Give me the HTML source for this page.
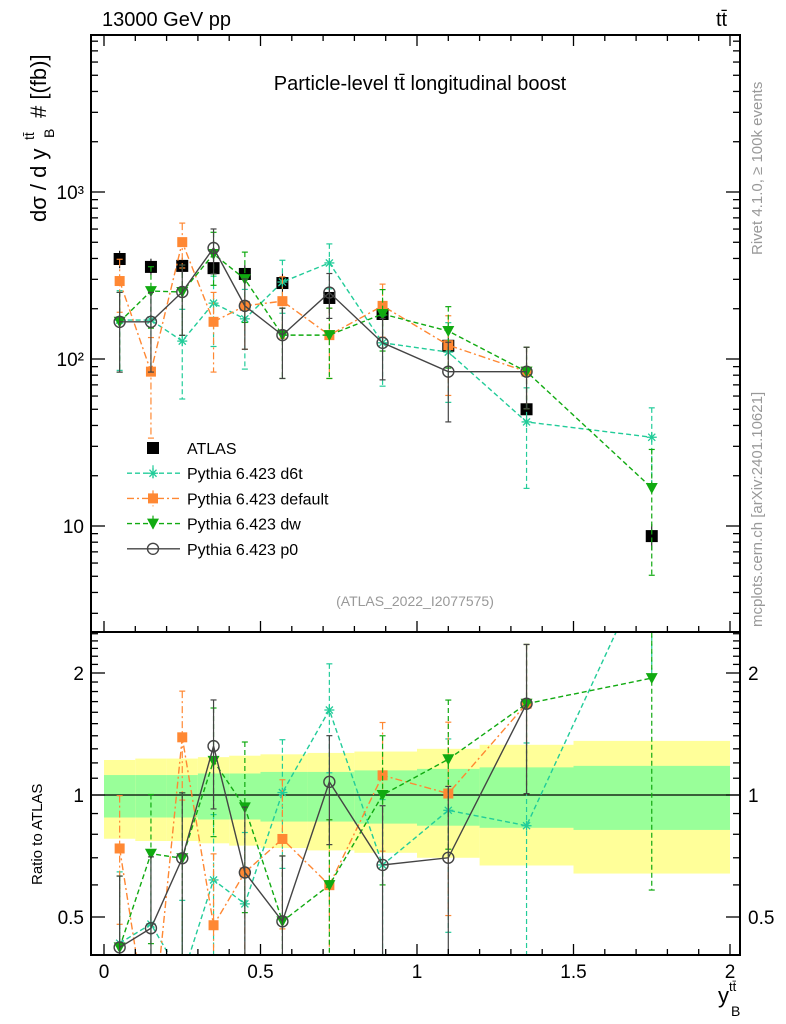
<!DOCTYPE html>
<html><head><meta charset="utf-8"><style>
html,body{margin:0;padding:0;background:#fff;overflow:hidden;width:786px;height:1024px}
svg{display:block}
svg text{font-family:"Liberation Sans","DejaVu Sans",sans-serif}
</style></head><body>
<svg id="c" width="786" height="1024" xmlns="http://www.w3.org/2000/svg"></svg>
<script>
const xs=[0.05,0.15,0.25,0.35,0.45,0.57,0.72,0.89,1.1,1.35,1.75];
const binEdges=[0,0.1,0.2,0.3,0.4,0.5,0.65,0.8,1.0,1.2,1.5,2.0];
const atlas=[397,356,361,350,323,285,232,186,120,50,8.7];
const atlasStat=[0.12,0.12,0.12,0.13,0.13,0.14,0.14,0.15,0.16,0.17,0.18];
const atlasTot=[0.22,0.23,0.23,0.24,0.25,0.26,0.27,0.28,0.3,0.33,0.36];
const d6t=[171,171,128,216,174,289,376,125,110,42,34];
const d6tErr=[0.5,0.5,0.55,0.45,0.5,0.35,0.3,0.45,0.5,0.6,0.5];
const def=[293,84,501,167,208,222,139,208,121,84];
const defErr=[0.35,0.6,0.3,0.5,0.45,0.4,0.45,0.35,0.5,0.4];
const dw=[167,255,252,425,301,139,139,186,147,84,16.9];
const dwErr=[0.5,0.4,0.45,0.35,0.45,0.45,0.45,0.4,0.4,0.4,0.7];
const p0=[167,167,252,462,208,139,250,125,84,84];
const p0Err=[0.5,0.5,0.45,0.3,0.45,0.45,0.3,0.4,0.5,0.4];
const xTicks=[0,0.5,1,1.5,2];
const yTicksMain=[10,100,1000];
const yTickLabelsMain=["10","10²","10³"];

const svg=document.getElementById('c');
const NS="http://www.w3.org/2000/svg";
const L=91,R=740,T=35,MB=632,RB=955;
const X=v=>104+v*313;
const Y=v=>359-(Math.log10(v)-2)*167;
const RY=r=>795-Math.log2(r)*122;
function mk(tag,attrs,parent){const e=document.createElementNS(NS,tag);for(const k in attrs)e.setAttribute(k,attrs[k]);(parent||svg).appendChild(e);return e;}
function txt(s,x,y,size,attrs,parent){const t=mk('text',Object.assign({x:x,y:y,'font-size':size},attrs||{}),parent);t.textContent=s;return t;}

const defs=mk('defs',{});
const cm=mk('clipPath',{id:'cm'},defs);mk('rect',{x:L,y:T,width:R-L,height:MB-T},cm);
const cr=mk('clipPath',{id:'cr'},defs);mk('rect',{x:L,y:MB,width:R-L,height:RB-MB},cr);

const band=mk('g',{'clip-path':'url(#cr)'});


for(let i=0;i<xs.length;i++){
  const x0=X(binEdges[i]),x1=X(binEdges[i+1]);
  const ry=mk('rect',{x:x0,y:RY(1+atlasTot[i]),width:x1-x0,height:RY(1-atlasTot[i])-RY(1+atlasTot[i]),fill:'#ffff99'},band);
  
  
  const rg=mk('rect',{x:x0,y:RY(1+atlasStat[i]),width:x1-x0,height:RY(1-atlasStat[i])-RY(1+atlasStat[i]),fill:'#99ff99'},band);
  
  
}
mk('line',{x1:L,x2:R,y1:RY(1),y2:RY(1),stroke:'#000','stroke-width':1.3});

const series=[
 {name:'d6t',vals:d6t,err:d6tErr,col:'#22cc99',dash:'5,3',mark:'star'},
 {name:'default',vals:def,err:defErr,col:'#ff8833',dash:'7,3,2,3',mark:'square'},
 {name:'dw',vals:dw,err:dwErr,col:'#11aa11',dash:'5,3',mark:'tri'},
 {name:'p0',vals:p0,err:p0Err,col:'#444444',dash:'',mark:'circle'}
];
function marker(type,x,y,col,g){
  if(type==='star'){for(let a=0;a<4;a++){const an=a*Math.PI/4;mk('line',{x1:x-5*Math.cos(an),y1:y-5*Math.sin(an),x2:x+5*Math.cos(an),y2:y+5*Math.sin(an),stroke:col,'stroke-width':1.3},g);}}
  else if(type==='square')mk('rect',{x:x-5,y:y-5,width:10,height:10,fill:col},g);
  else if(type==='tri')mk('polygon',{points:`${x-6},${y-5} ${x+6},${y-5} ${x},${y+6}`,fill:col},g);
  else if(type==='circle')mk('circle',{cx:x,cy:y,r:5.5,fill:'#fff','fill-opacity':0,stroke:col,'stroke-width':1.4},g);
  else if(type==='black')mk('rect',{x:x-6,y:y-6,width:12,height:12,fill:'#000'},g);
}
function drawSeries(s,ratio){
  const g=mk('g',{'clip-path':ratio?'url(#cr)':'url(#cm)'});
  
  
  const f=ratio?((v,i)=>RY(v/atlas[i])):((v,i)=>Y(v));
  let pts=s.vals.map((v,i)=>X(xs[i])+','+f(v,i)).join(' ');
  mk('polyline',{points:pts,fill:'none',stroke:s.col,'stroke-width':1.4,'stroke-dasharray':s.dash},g);
  s.vals.forEach((v,i)=>{
    const x=X(xs[i]),y1=f(v*(1+s.err[i]),i),y2=f(v*(1-s.err[i]),i);
    mk('line',{x1:x,x2:x,y1:y1,y2:y2,stroke:s.col,'stroke-width':1.2,'stroke-dasharray':s.dash},g);
    mk('line',{x1:x-3,x2:x+3,y1:y1,y2:y1,stroke:s.col,'stroke-width':1.2},g);
    mk('line',{x1:x-3,x2:x+3,y1:y2,y2:y2,stroke:s.col,'stroke-width':1.2},g);
    marker(s.mark,x,f(v,i),s.col,g);
  });
}
const ga=mk('g',{'clip-path':'url(#cm)'});


atlas.forEach((v,i)=>{const x=X(xs[i]);mk('line',{x1:x,x2:x,y1:Y(v*(1+atlasStat[i])),y2:Y(v*(1-atlasStat[i])),stroke:'#000'},ga);marker('black',x,Y(v),'#000',ga);});
series.forEach(s=>{drawSeries(s,false);drawSeries(s,true);});

mk('rect',{x:L,y:T,width:R-L,height:MB-T,fill:'none',stroke:'#000','stroke-width':2});
mk('rect',{x:L,y:MB,width:R-L,height:RB-MB,fill:'none',stroke:'#000','stroke-width':2});
for(let k=0;k<=20;k++){const v=k/10,x=X(v),maj=k%5===0,l=maj?11:6;
 [[MB,1],[T,-1],[RB,1]].forEach(([yb,d])=>{mk('line',{x1:x,x2:x,y1:yb-d*l,y2:yb,stroke:'#000','stroke-width':1.3});});
}
xTicks.forEach(v=>{const t=txt(String(v),X(v),978,19,{'text-anchor':'middle'});});
for(let d=0;d<=3;d++)for(let m=1;m<=9;m++){const v=m*Math.pow(10,d);const y=Y(v);if(y<T||y>MB)continue;const l=m===1?14:7;
 mk('line',{x1:L,x2:L+l,y1:y,y2:y,stroke:'#000','stroke-width':1.3});mk('line',{x1:R-l,x2:R,y1:y,y2:y,stroke:'#000','stroke-width':1.3});}
yTicksMain.forEach((v,i)=>{const t=txt(yTickLabelsMain[i],84,Y(v)+7,19,{'text-anchor':'end'});});
for(let m=0.4;m<=2.6;m+=0.1){const y=RY(m);if(y<MB||y>RB)continue;const maj=Math.abs(m-0.5)<0.01||Math.abs(m-1)<0.01||Math.abs(m-2)<0.01;const l=maj?14:7;
 mk('line',{x1:L,x2:L+l,y1:y,y2:y,stroke:'#000','stroke-width':1.3});mk('line',{x1:R-l,x2:R,y1:y,y2:y,stroke:'#000','stroke-width':1.3});}
[[2,'2'],[1,'1'],[0.5,'0.5']].forEach(([v,s])=>{txt(s,84,RY(v)+7,19,{'text-anchor':'end'});txt(s,748,RY(v)+7,19,{});});

let t;
t=txt('13000 GeV pp',102,26,20,{});
t=txt('tt̄',716,26,20,{});
t=txt('Particle-level tt̄ longitudinal boost',420,90,20,{'text-anchor':'middle'});
t=txt('(ATLAS_2022_I2077575)',415,606,14,{'text-anchor':'middle',fill:'#999'});
t=txt('dσ / d y',0,0,22,{transform:'translate(46,222) rotate(-90)'});
txt('tt̄',0,0,14,{transform:'translate(34,140) rotate(-90)'});
txt('B',0,0,14,{transform:'translate(54,138) rotate(-90)'});
txt('# [(fb)]',0,0,22,{transform:'translate(46,118) rotate(-90)'});
t=txt('Ratio to ATLAS',0,0,15,{transform:'translate(42,885) rotate(-90)'});
t=txt('y',718,1003,22,{});
txt('tt̄',729,991,13,{});txt('B',731,1016,14,{});
t=txt('Rivet 4.1.0, ≥ 100k events',0,0,15,{transform:'translate(762,255) rotate(-90)',fill:'#999'});
t=txt('mcplots.cern.ch [arXiv:2401.10621]',0,0,15,{transform:'translate(762,627) rotate(-90)',fill:'#999'});

const leg=mk('g',{});


const legItems=[['ATLAS',null],['Pythia 6.423 d6t',series[0]],['Pythia 6.423 default',series[1]],['Pythia 6.423 dw',series[2]],['Pythia 6.423 p0',series[3]]];
legItems.forEach(([name,s],i)=>{
  const y=448+i*25.2;
  const g=mk('g',{},leg);
  
  
  if(!s){marker('black',153,y,'#000',g);}
  else{mk('line',{x1:127,x2:180,y1:y,y2:y,stroke:s.col,'stroke-width':1.4,'stroke-dasharray':s.dash},g);if(s.mark!=='circle')mk('line',{x1:153,x2:153,y1:y-8,y2:y+8,stroke:s.col,'stroke-width':1.2,'stroke-dasharray':s.dash},g);marker(s.mark,153,y,s.col,g);}
  txt(name,187,y+6,16,{},g);
});
</script>
</body></html>
